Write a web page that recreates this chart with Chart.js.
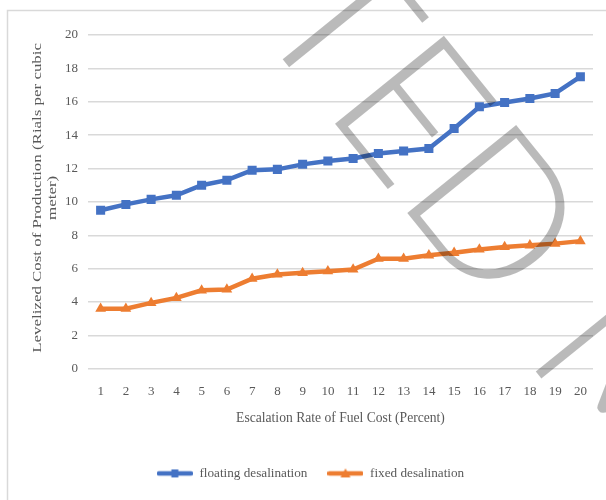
<!DOCTYPE html>
<html>
<head>
<meta charset="utf-8">
<script src="https://cdn.jsdelivr.net/npm/chart.js@4"></script>
<style>
  html, body { margin: 0; padding: 0; background: #fff; overflow: hidden; }
  #wrap { width: 606px; height: 500px; }
</style>
</head>
<body>
<div id="wrap"><canvas id="costChart"></canvas></div>
<script>
// escalation rate of fuel cost, percent
const escalationRates = ['1', '2', '3', '4', '5', '6', '7', '8', '9', '10',
                         '11', '12', '13', '14', '15', '16', '17', '18', '19', '20'];

// levelized cost of production, rials per cubic meter
const floatingCost = [9.5, 9.85, 10.15, 10.4, 11.0, 11.3, 11.9, 11.95, 12.25, 12.45,
                      12.6, 12.9, 13.05, 13.2, 14.4, 15.7, 15.95, 16.2, 16.5, 17.5];
const fixedCost = [3.6, 3.6, 3.95, 4.25, 4.7, 4.75, 5.4, 5.65, 5.75, 5.85,
                   5.95, 6.6, 6.6, 6.8, 6.95, 7.15, 7.3, 7.4, 7.5, 7.65];

const yMin = 0;
const yMax = 20;
const yStep = 2;

const yTitleLines = ['Levelized Cost of Production (Rials per cubic', 'meter)'];

const BLUE = '#4472C4';
const ORANGE = '#ED7D31';
const TEXT = '#595959';
const GRID = '#d9d9d9';
const SERIF = "'Liberation Serif', 'Times New Roman', serif";

// little line + marker swatch used for the legend entries
function legendSwatch(color, shape) {
    const c = document.createElement('canvas');
    c.width = 36;
    c.height = 12;
    const ctx = c.getContext('2d');
    ctx.strokeStyle = color;
    ctx.fillStyle = color;
    ctx.lineWidth = 4.5;
    ctx.lineCap = 'round';
    ctx.beginPath();
    ctx.moveTo(2, 6);
    ctx.lineTo(34, 6);
    ctx.stroke();
    ctx.beginPath();
    if (shape === 'rect') {
        ctx.rect(14.5, 2, 7, 8);
    } else {
        ctx.moveTo(18, 1);
        ctx.lineTo(23, 10);
        ctx.lineTo(13, 10);
        ctx.closePath();
    }
    ctx.fill();
    return c;
}

// white page with the light chart-area frame
const chartFrame = {
    id: 'chartFrame',
    beforeDraw(chart) {
        const ctx = chart.ctx;
        ctx.save();
        ctx.fillStyle = '#fff';
        ctx.fillRect(0, 0, chart.width, chart.height);
        ctx.strokeStyle = GRID;
        ctx.lineWidth = 1.5;
        ctx.strokeRect(7.5, 10.5, chart.width + 20, chart.height + 20);
        ctx.restore();
    }
};

// vertical axis title, two rotated lines stretched along their length
const yAxisTitle = {
    id: 'yAxisTitle',
    afterDraw(chart) {
        const ctx = chart.ctx;
        const area = chart.chartArea;
        const midY = (area.top + area.bottom) / 2 - 4;
        ctx.save();
        ctx.font = '13px ' + SERIF;
        ctx.fillStyle = TEXT;
        ctx.textAlign = 'center';
        ctx.textBaseline = 'middle';
        yTitleLines.forEach((line, i) => {
            ctx.save();
            ctx.translate(38 + i * 15, midY);
            ctx.rotate(-Math.PI / 2);
            ctx.scale(1.3, 1);
            ctx.fillText(line, 0, 0);
            ctx.restore();
        });
        ctx.restore();
    }
};

// diagonal stamp laid over the finished chart
const stamp = {
    id: 'stamp',
    afterDraw(chart) {
        const ctx = chart.ctx;
        ctx.save();
        ctx.font = "300 198px Lato, 'DejaVu Sans', sans-serif";
        ctx.fillStyle = 'rgba(0, 0, 0, 0.27)';
        ctx.textBaseline = 'alphabetic';
        ctx.textAlign = 'left';
        ctx.translate(408, 214);
        ctx.rotate(51 * Math.PI / 180);
        const lead = ctx.measureText('ACCEPTE').width;
        ctx.fillText('ACCEPTED MANUSCRIPT', -lead - 22, 0);
        ctx.restore();
    }
};

new Chart(document.getElementById('costChart'), {
    type: 'line',
    data: {
        labels: escalationRates,
        datasets: [
            {
                label: 'floating desalination',
                data: floatingCost,
                borderColor: BLUE,
                backgroundColor: BLUE,
                borderWidth: 4.5,
                pointStyle: 'rect',
                pointRadius: 6.4,
                pointBorderWidth: 0,
                pointHoverRadius: 6.4,
                tension: 0
            },
            {
                label: 'fixed desalination',
                data: fixedCost,
                borderColor: ORANGE,
                backgroundColor: ORANGE,
                borderWidth: 4.5,
                pointStyle: 'triangle',
                pointRadius: 6.2,
                pointBorderWidth: 0,
                pointHoverRadius: 6.2,
                tension: 0
            }
        ]
    },
    options: {
        responsive: true,
        maintainAspectRatio: false,
        animation: false,
        layout: {
            padding: { left: 28, right: 13, top: 35, bottom: 10 }
        },
        plugins: {
            legend: {
                position: 'bottom',
                labels: {
                    usePointStyle: true,
                    pointStyleWidth: 36,
                    boxHeight: 13,
                    padding: 20,
                    color: TEXT,
                    font: { family: SERIF, size: 13.2 },
                    generateLabels(chart) {
                        return chart.data.datasets.map((ds, i) => ({
                            text: ds.label,
                            pointStyle: legendSwatch(ds.borderColor, ds.pointStyle),
                            fillStyle: ds.borderColor,
                            strokeStyle: ds.borderColor,
                            lineWidth: 0,
                            fontColor: TEXT,
                            hidden: false,
                            datasetIndex: i
                        }));
                    }
                }
            },
            tooltip: { enabled: false }
        },
        scales: {
            x: {
                offset: true,
                afterFit(scale) { scale.height = 78; },
                grid: { display: false, drawTicks: false, offset: true },
                border: { display: false },
                ticks: {
                    color: TEXT,
                    font: { family: SERIF, size: 13 },
                    padding: 15,
                    maxRotation: 0
                },
                title: {
                    display: true,
                    text: 'Escalation Rate of Fuel Cost (Percent)',
                    color: TEXT,
                    font: { family: SERIF, size: 13.6 },
                    padding: { top: 0, bottom: 20 }
                }
            },
            y: {
                min: yMin,
                max: yMax,
                afterFit(scale) { scale.width = 60; },
                grid: { color: GRID, lineWidth: 1.5, drawTicks: false },
                border: { display: false },
                ticks: {
                    stepSize: yStep,
                    color: TEXT,
                    font: { family: SERIF, size: 13 },
                    padding: 10
                },
                title: { display: false }
            }
        }
    },
    plugins: [chartFrame, yAxisTitle, stamp]
});
</script>
</body>
</html>
